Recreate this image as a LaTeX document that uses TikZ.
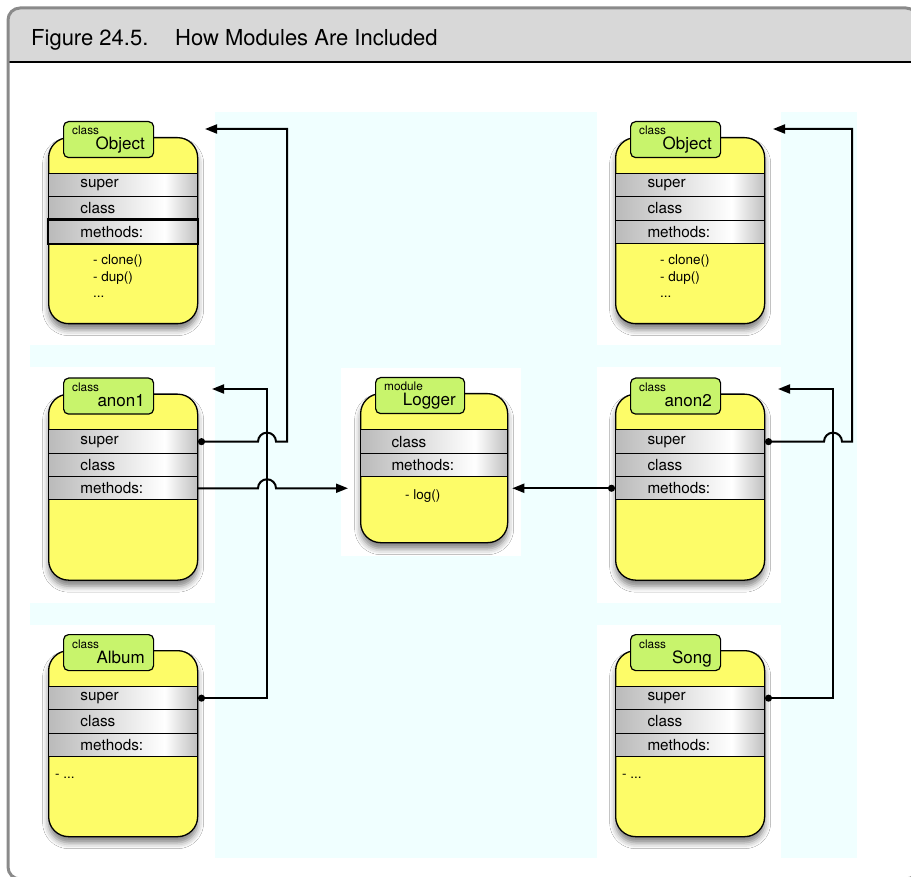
\documentclass[tikz,border=0pt]{standalone}
\usepackage{fontspec}
\setmainfont{TeX Gyre Heros}
\usetikzlibrary{arrows.meta,shadows.blur}

\definecolor{boxyellow}{HTML}{FDFC68}
\definecolor{tabgreen}{HTML}{C8F46C}
\definecolor{bgcyan}{HTML}{F0FFFF}
\definecolor{headgray}{HTML}{D8D8D8}
\definecolor{framegray}{HTML}{8A8A8A}

% gray row bars, light towards the right
\pgfdeclarehorizontalshading{rowshade}{100bp}{color(0bp)=(black!27); color(25bp)=(black!27); color(64bp)=(white); color(75bp)=(black!25); color(100bp)=(black!25)}

\newcommand{\headfont}{\fontsize{22}{26}\selectfont}
\newcommand{\rowfont}{\fontsize{15.3}{18}\selectfont}
\newcommand{\tagfont}{\fontsize{11.8}{13}\selectfont}
\newcommand{\namefont}{\fontsize{17}{20}\selectfont}
\newcommand{\listfont}{\fontsize{13.5}{16}\selectfont}

\begin{document}
\begin{tikzpicture}[x=1pt,y=-1pt,
        body/.style={draw,line width=1.3pt,fill=boxyellow,rounded corners=20pt,minimum width=149pt,minimum height=186pt,inner sep=0pt,
            blur shadow={shadow xshift=0pt,shadow yshift=-6pt,shadow blur radius=6pt,shadow opacity=50}},
        tab/.style={draw,line width=1.2pt,fill=tabgreen,rounded corners=5pt,minimum width=90pt,minimum height=36pt,inner sep=0pt},
        row/.style={draw,line width=1pt,shade,shading=rowshade,minimum height=23.3pt,text width=149pt,inner sep=0pt,align=left,font=\rowfont},
        kind/.style={font=\tagfont,inner sep=0pt,anchor=base west},
        title/.style={font=\namefont,inner sep=0pt,anchor=base east},
        item/.style={font=\listfont,inner sep=0pt,anchor=base west},
        conn/.style={line width=2pt,arrows={Circle[length=7pt]-Triangle[length=12pt,width=9pt]}}]

    \useasboundingbox (0,0) rectangle (911,877);
    \clip (0,0) rectangle (911,877);

    % caption bar and frame
    \begin{scope}
        \clip[rounded corners=12pt] (8,8) rectangle (918,879);
        \fill[headgray] (8,8) rectangle (918,62);
    \end{scope}
    \draw[line width=1.3pt] (8,62) -- (918,62);
    \draw[framegray,line width=3pt,rounded corners=12pt] (8,8) rectangle (918,879);
    \node[anchor=base west,inner sep=0pt,font=\headfont] (fignum) at (31,46) {Figure 24.5.};
    \node[anchor=base west,inner sep=0pt,font=\headfont] (figtitle) at (175,46) {How Modules Are Included};

    % background
    \fill[bgcyan] (30,112) rectangle (857,858);
    \foreach \wy/\wh in {112/345, 367/603, 625/858} {
        \fill[white] (30,\wy) rectangle (215,\wh);
        \fill[white] (597,\wy) rectangle (781,\wh);
    }
    \fill[white] (341,368) rectangle (521,556);

    % class boxes
    \foreach \nm/\bx/\by/\ttl in {obj1/48/137/Object, anon1/48/393.5/anon1, album/48/650/Album,
                                  obj2/615/137/Object, anon2/615/393.5/anon2, song/615/650/Song} {
        \node[body,anchor=north west] (\nm) at (\bx,\by) {};
        \node[tab,anchor=north west] (\nm-tab) at (\bx+15,\by-16) {};
        \node[kind] at (\bx+24,\by-2) {class};
        \node[title] at (\bx+97,\by+13) {\ttl};
        \node[row,anchor=north west] (\nm-super) at (\bx,\by+36) {\hspace*{32pt}super};
        \node[row,anchor=north west] (\nm-class) at (\bx,\by+59.3) {\hspace*{32pt}class};
        \node[row,anchor=north west] (\nm-methods) at (\bx,\by+82.6) {\hspace*{32pt}methods:};
    }
    \draw[line width=2.2pt] (obj1-methods.north west) rectangle (obj1-methods.south east);

    \foreach \bx in {93,660} {
        \node[item] at (\bx,264.5) {- clone()};
        \node[item] at (\bx,281.5) {- dup()};
        \node[item] at (\bx,298) {...};
    }
    \node[item] at (55,778) {- ...};
    \node[item] at (622,778) {- ...};

    % module box
    \node[body,anchor=north west,minimum width=147pt,minimum height=149pt] (logger) at (360,393) {};
    \node[tab,anchor=north west,minimum width=89pt] (logger-tab) at (375,377) {};
    \node[kind] at (384,391) {module};
    \node[title] at (456,406) {Logger};
    \node[row,anchor=north west,text width=147pt] (logger-class) at (360,429.5) {\hspace*{31pt}class};
    \node[row,anchor=north west,text width=147pt] (logger-methods) at (360,452.8) {\hspace*{31pt}methods:};
    \node[item] at (405,499.5) {- log()};

    % connectors
    \coordinate (obj1-in) at (205,129);
    \coordinate (anon1-in) at (212,389);
    \coordinate (obj2-in) at (773,129);
    \coordinate (anon2-in) at (778,389);
    \coordinate (busL) at (267,0);
    \coordinate (riseL) at (287,0);
    \coordinate (busR) at (833,0);
    \coordinate (riseR) at (852,0);

    \draw[conn] (album-super.east) -| (busL |- anon1-in) -- (anon1-in);
    \draw[conn] (song-super.east) -| (busR |- anon2-in) -- (anon2-in);
    \draw[conn] (anon1-super.east) -- ([xshift=-9pt]anon1-super.east -| busL) arc[start angle=180,end angle=360,radius=9]
        -- (anon1-super.east -| riseL) |- (obj1-in);
    \draw[conn,arrows=-{Triangle[length=12pt,width=9pt]},shorten >=12pt] (anon1-methods.east)
        -- ([xshift=-9pt]anon1-methods.east -| busL) arc[start angle=180,end angle=360,radius=9]
        -- (anon1-methods.east -| logger.west);
    \draw[conn] (anon2-super.east) -- ([xshift=-9pt]anon2-super.east -| busR) arc[start angle=180,end angle=360,radius=9]
        -- (anon2-super.east -| riseR) |- (obj2-in);
    \draw[conn,shorten >=4pt] (anon2-methods.west) -- (anon2-methods.west -| logger.east);
\end{tikzpicture}
\end{document}
